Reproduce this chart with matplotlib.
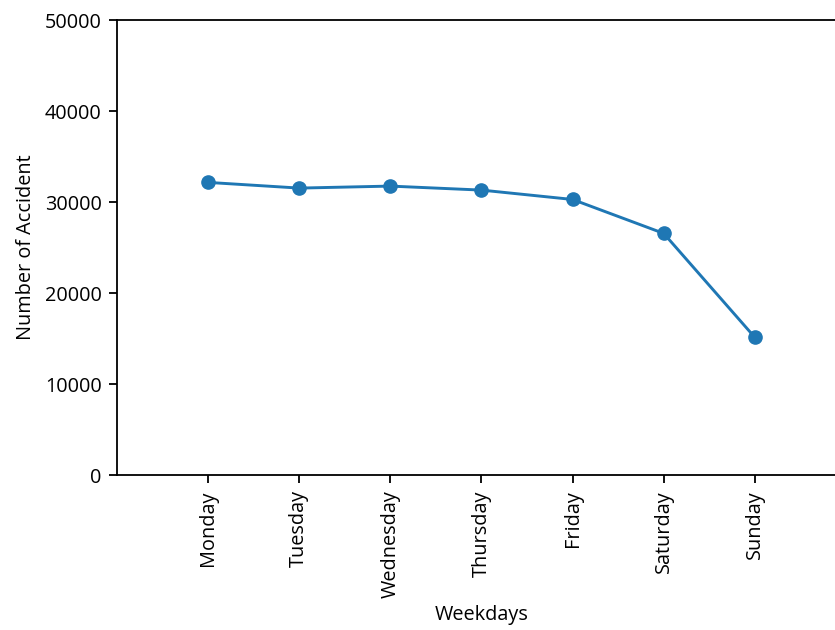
import matplotlib
matplotlib.use("Agg")
import matplotlib.pyplot as plt

weekdays = ["Monday", "Tuesday", "Wednesday", "Thursday", "Friday", "Saturday", "Sunday"]
accidents = [32165, 31540, 31760, 31320, 30290, 26560, 15130]
y_ticks = [0, 10000, 20000, 30000, 40000, 50000]

plt.rcParams["font.family"] = ["Open Sans", "DejaVu Sans"]

fig = plt.figure(figsize=(8.35, 6.30), dpi=100)
ax = fig.add_axes([0.1401, 0.246, 0.873, 0.722])

x = list(range(len(weekdays)))
ax.plot(x, accidents, color="#1f77b4", marker="o", linewidth=2.1, markersize=9.5)

ax.set_xlim(-1, 7)
ax.set_ylim(0, 50000)
ax.set_xticks(x)
ax.set_xticklabels(weekdays, rotation=90)
ax.set_yticks(y_ticks)
ax.tick_params(labelsize=14.3, length=6, width=1.3, pad=5)
for s in ax.spines.values():
    s.set_linewidth(1.3)

ax.set_xlabel("Weekdays", fontsize=14.3, labelpad=5)
ax.set_ylabel("Number of Accident", fontsize=14.3, labelpad=6)

fig.savefig("out.png", dpi=100)
